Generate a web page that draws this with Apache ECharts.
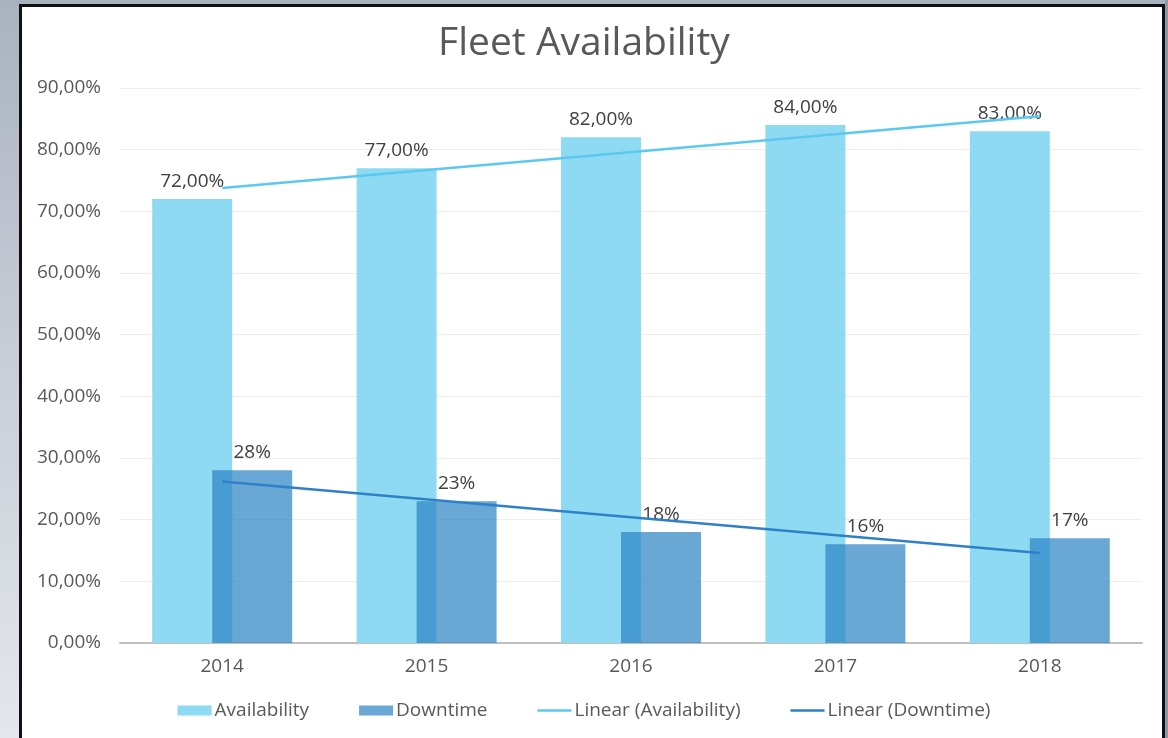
<!DOCTYPE html>
<html>
<head>
<meta charset="utf-8">
<script src="https://cdn.jsdelivr.net/npm/echarts@6/dist/echarts.min.js"></script>
<style>
  html, body { margin: 0; padding: 0; width: 1168px; height: 738px; overflow: hidden; }
  body { background: linear-gradient(180deg, #a9b2bf 0%, #c3c9d3 40%, #e4e7ec 100%); position: relative; }
  #right { position: absolute; left: 1165px; top: 0; width: 3px; height: 738px; background: #8f9aa8; }
  #panel { position: absolute; left: 19px; top: 4px; width: 1140px; height: 760px; background: #ffffff; border: 3px solid #111; box-sizing: content-box; }
  #chart { position: absolute; left: 0; top: 0; width: 1168px; height: 738px; }
</style>
</head>
<body>
<div id="right"></div>
<div id="panel"></div>
<div id="chart"></div>
<script>
const categories = ['2014', '2015', '2016', '2017', '2018'];
const availability = [72, 77, 82, 84, 83];
const downtime = [28, 23, 18, 16, 17];
// trendline endpoints (first and last category)
const trendAvailability = [73.8, null, null, null, 85.4];
const trendDowntime = [26.2, null, null, null, 14.6];
const yTicks = { min: 0, max: 90, interval: 10 };

const FONT = '"Open Sans", "DejaVu Sans", sans-serif';
const LINE_ICON = 'path://M0,0 M34,10 M0,3.7 L34,3.7 L34,6.3 L0,6.3 Z';
const chart = echarts.init(document.getElementById('chart'), null, { renderer: 'canvas' });
chart.setOption({
  backgroundColor: 'transparent',
  animation: false,
  title: {
    text: 'Fleet Availability',
    left: 'center',
    top: 19,
    padding: [5, 5, 5, 20],
    textStyle: { fontFamily: FONT, fontSize: 39, fontWeight: 'normal', color: '#595959' }
  },
  grid: { left: 120, right: 26, top: 88, bottom: 95, containLabel: false },
  legend: {
    bottom: 13,
    left: 'center',
    itemWidth: 34,
    itemHeight: 10,
    itemGap: 50,
    textStyle: { fontFamily: FONT, fontSize: 19, color: '#595959', padding: [0, 0, 0, -2] },
    data: [
      { name: 'Availability', icon: 'rect' },
      { name: 'Downtime', icon: 'rect' },
      { name: 'Linear (Availability)', icon: LINE_ICON },
      { name: 'Linear (Downtime)', icon: LINE_ICON }
    ]
  },
  xAxis: {
    type: 'category',
    data: categories,
    axisLine: { lineStyle: { color: '#bfbfbf', width: 2 } },
    axisTick: { show: false },
    axisLabel: { fontFamily: FONT, fontSize: 19, color: '#595959', margin: 14 }
  },
  yAxis: {
    type: 'value',
    min: yTicks.min,
    max: yTicks.max,
    interval: yTicks.interval,
    axisLine: { show: false },
    axisTick: { show: false },
    splitLine: { lineStyle: { color: '#eeeeee', width: 1 } },
    axisLabel: {
      fontFamily: FONT, fontSize: 19, color: '#595959', margin: 19,
      formatter: v => v.toFixed(2).replace('.', ',') + '%'
    }
  },
  series: [
    {
      name: 'Availability',
      type: 'bar',
      data: availability,
      barWidth: 80,
      barGap: '-25%',
      itemStyle: { color: '#8edaf3' },
      label: {
        show: true, position: 'top', distance: 8,
        fontFamily: FONT, fontSize: 19, color: '#404040',
        formatter: p => p.value.toFixed(2).replace('.', ',') + '%'
      },
      z: 2
    },
    {
      name: 'Downtime',
      type: 'bar',
      data: downtime,
      barWidth: 80,
      itemStyle: { color: 'rgba(42,129,194,0.7)' },
      label: {
        show: true, position: 'top', distance: 8,
        fontFamily: FONT, fontSize: 19, color: '#404040',
        formatter: p => p.value + '%'
      },
      z: 3
    },
    {
      name: 'Linear (Availability)',
      type: 'line',
      data: trendAvailability,
      connectNulls: true,
      symbol: 'none',
      lineStyle: { color: '#5cc8f0', width: 2.5 },
      itemStyle: { color: '#5cc8f0' },
      z: 5
    },
    {
      name: 'Linear (Downtime)',
      type: 'line',
      data: trendDowntime,
      connectNulls: true,
      symbol: 'none',
      lineStyle: { color: '#2f80c8', width: 2.5 },
      itemStyle: { color: '#2f80c8' },
      z: 5
    }
  ]
});
</script>
</body>
</html>
